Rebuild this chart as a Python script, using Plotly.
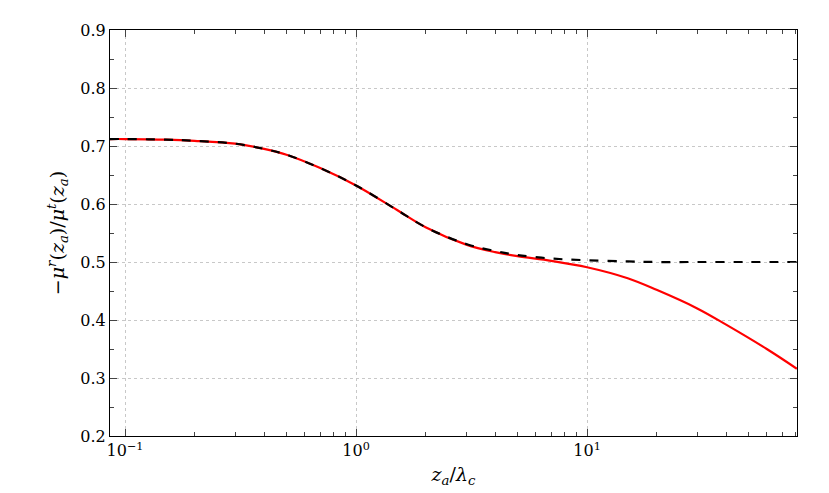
import plotly.graph_objects as go

x_red = [0.086, 0.1, 0.15, 0.2, 0.3, 0.4, 0.5, 0.7, 1.0, 1.5, 2.0, 3.0, 4.0, 5.0, 7.0, 10.0, 15.0, 20.0, 30.0, 40.0, 60.0, 81.0]
y_red = [0.712, 0.712, 0.711, 0.709, 0.704, 0.695, 0.685, 0.662, 0.632, 0.590, 0.560, 0.530, 0.517, 0.510, 0.502, 0.491, 0.472, 0.452, 0.420, 0.392, 0.350, 0.316]
x_blk = [0.086, 0.1, 0.15, 0.2, 0.3, 0.4, 0.5, 0.7, 1.0, 1.5, 2.0, 3.0, 4.0, 5.0, 7.0, 10.0, 15.0, 20.0, 30.0, 50.0, 81.0]
y_blk = [0.712, 0.712, 0.711, 0.709, 0.704, 0.695, 0.685, 0.662, 0.632, 0.590, 0.560, 0.531, 0.519, 0.512, 0.506, 0.503, 0.501, 0.500, 0.500, 0.500, 0.500]

xtick_vals = [0.1, 1, 10]
xtick_text = ["10<sup>−1</sup>", "10<sup>0</sup>", "10<sup>1</sup>"]
ytick_vals = [0.2, 0.3, 0.4, 0.5, 0.6, 0.7, 0.8, 0.9]

fig = go.Figure()
fig.add_trace(go.Scatter(x=x_red, y=y_red, mode="lines", line=dict(color="#ff0000", width=2.2, shape="spline")))
fig.add_trace(go.Scatter(x=x_blk, y=y_blk, mode="lines", line=dict(color="black", width=2.2, dash="dash", shape="spline")))

font = dict(family="DejaVu Serif", size=16, color="black")
fig.update_layout(
    width=829, height=493, showlegend=False,
    plot_bgcolor="white", paper_bgcolor="white",
    margin=dict(l=102, r=40, t=22, b=65, autoexpand=False),
    font=font,
)
fig.update_xaxes(type="log", range=[-1.065, 1.909], tickvals=xtick_vals, ticktext=xtick_text,
                 ticks="inside", ticklen=7, mirror="ticks", showline=True, linecolor="black", linewidth=1.2,
                 showgrid=True, gridcolor="#c8c8c8", griddash="dot", gridwidth=1, automargin=False,
                 minor=dict(ticks="inside", ticklen=4, tickvals=[0.2,0.3,0.4,0.5,0.6,0.7,0.8,0.9,2,3,4,5,6,7,8,9,20,30,40,50,60,70,80], showgrid=False),
                 title=dict(text="<i>z<sub>a</sub></i>/<i>λ<sub>c</sub></i>", standoff=8), zeroline=False)
fig.update_yaxes(range=[0.2, 0.9], tickvals=ytick_vals, tickformat=".1f",
                 ticks="inside", ticklen=7, mirror="ticks", showline=True, linecolor="black", linewidth=1.2,
                 showgrid=True, gridcolor="#c8c8c8", griddash="dot", gridwidth=1, automargin=False,
                 minor=dict(ticks="inside", ticklen=4, dtick=0.05, showgrid=False),
                 title=dict(text="−<i>μ<sup>r</sup></i>(<i>z<sub>a</sub></i>)/<i>μ<sup>t</sup></i>(<i>z<sub>a</sub></i>)", standoff=10), zeroline=False)
fig.write_html("out.html")
